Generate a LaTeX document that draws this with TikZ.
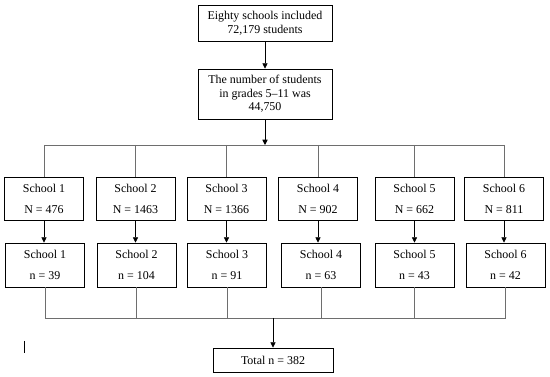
\documentclass[tikz,border=0pt]{standalone}
\usepackage{fontspec}
\setmainfont{Liberation Serif}
\usepackage{xcolor}
\definecolor{linkgray}{RGB}{110, 110, 110}
\usepackage{tikz}
\usetikzlibrary{arrows.meta, calc, positioning}

\begin{document}
\begin{tikzpicture}[x=0.03cm, y=-0.03cm, >={Triangle[length=4.5pt, width=4.5pt]},
    box/.style={draw, line width=0.8pt, align=center, inner sep=1pt,
      font=\fontsize{10.2}{11.6}\selectfont},
    schoolbox/.style={box, minimum width=2.37cm, minimum height=1.28cm},
    link/.style={draw=linkgray, line width=0.6pt}]
  \useasboundingbox (0,0) rectangle (550,377);
  % top of the flow
  \node[box, minimum width=4.02cm, minimum height=1.08cm] (all) at (265,23)
    {Eighty schools included\\72,179 students};
  \node[box, minimum width=4.02cm, minimum height=1.5cm] (grades) at (265,94)
    {The number of students\\in grades 5--11 was\\44,750};
  \draw[link, ->, draw=black] (all) -- (grades);
  % the two rows of schools
  \foreach \i/\xa/\xb/\N/\n in {1/44/45/476/39, 2/135.5/136.5/1463/104, 3/226.5/227/1366/91,
      4/318/321/902/63, 5/414.5/414.5/662/43, 6/504/505.5/811/42} {
    \node[schoolbox] (s\i) at (\xa,199) {School \i\\[6.5pt]N = \N};
    \node[schoolbox, minimum height=1.32cm] (t\i) at (\xb,265) {School \i\\[6.5pt]n = \n};
    \draw[link, ->, draw=black] (s\i) -- (s\i.south |- t\i.north);
  }
  % upper split
  \coordinate (top) at (0,145);
  \draw[link, ->, draw=black] (grades) -- (grades.south |- top);
  \draw[link] (s1.north |- top) -- (s6.north |- top);
  \foreach \i in {1,...,6}
    \draw[link] (s\i.north |- top) -- (s\i.north);
  % lower join
  \coordinate (bot) at (0,318);
  \node[box, minimum width=3.6cm, minimum height=0.72cm] (total) at (273,360) {Total n = 382};
  \draw[link] (t1.south |- bot) -- (t6.south |- bot);
  \foreach \i in {1,...,6}
    \draw[link] (t\i.south) -- (t\i.south |- bot);
  \draw[link, ->, draw=black] (total.north |- bot) -- (total.north);
  % stray mark left of the total
  \draw[line width=0.6pt] (24,341) -- (24,353);
\end{tikzpicture}
\end{document}
